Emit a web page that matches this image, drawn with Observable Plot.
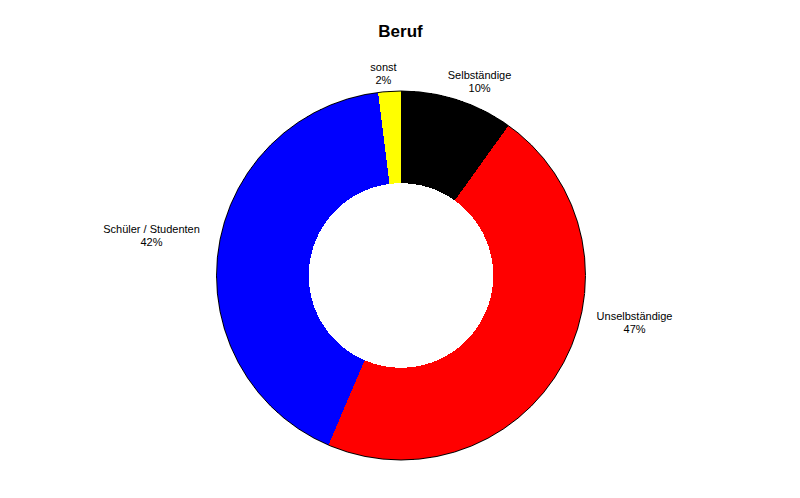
<!DOCTYPE html>
<html>
<head>
<meta charset="utf-8">
<script src="https://cdn.jsdelivr.net/npm/d3@7"></script>
<script src="https://cdn.jsdelivr.net/npm/@observablehq/plot@0.6"></script>
<style>
  body { margin: 0; background: #fff; }
  svg { display: block; }
</style>
</head>
<body>
<div id="chart"></div>
<script>
// Survey result: occupation ("Beruf"), share in percent, clockwise from 12 o'clock
const categories = ["Selbständige", "Unselbständige", "Schüler / Studenten", "sonst"];
const shares = [10, 47, 42, 2];
const sliceColors = ["#000000", "#ff0000", "#0000ff", "#ffff00"];
const title = "Beruf";

// Label anchors in units of the outer radius, relative to the ring's centre
const labelX = [0.423, 1.263, -1.355, -0.098];
const labelY = [1.054, -0.252, 0.220, 1.100];

const innerRatio = 0.5;
const width = 800, height = 498;

const labels = categories.map((c, i) => ({
  text: `${c}\n${shares[i]}%`,
  x: labelX[i],
  y: labelY[i]
}));

// Donut ring drawn from the shares, positioned and sized by Plot's x/y scales
function donut(index, scales) {
  const cx = scales.x(0), cy = scales.y(0);
  const r = scales.x(1) - cx;
  const arcs = d3.pie().sort(null).value(d => d)(shares);
  const arc = d3.arc().innerRadius(r * innerRatio).outerRadius(r);
  const g = d3.create("svg:g").attr("transform", `translate(${cx},${cy})`);
  g.selectAll("path")
    .data(arcs)
    .join("path")
    .attr("d", arc)
    .attr("fill", (d, i) => scales.color(categories[i]))
    .attr("shape-rendering", "crispEdges");
  g.append("circle")
    .attr("r", r)
    .attr("fill", "none")
    .attr("stroke", "#000")
    .attr("stroke-width", 1);
  return g.node();
}

const chart = Plot.plot({
  width,
  height,
  margin: 0,
  style: { fontFamily: "Liberation Sans, Arial, sans-serif", background: "#fff" },
  x: { domain: [-401 / 184.5, 399 / 184.5], range: [0, width], axis: null },
  y: { domain: [-(height - 275.5) / 184.5, 275.5 / 184.5], range: [height, 0], axis: null },
  color: { domain: categories, range: sliceColors },
  marks: [
    donut,
    Plot.text(labels, {
      x: "x",
      y: "y",
      text: "text",
      fontSize: 11,
      lineHeight: 1.2,
      fill: "#000",
      textAnchor: "middle",
      lineAnchor: "middle"
    }),
    Plot.text([title], {
      frameAnchor: "top",
      dy: 31,
      lineAnchor: "middle",
      text: d => d,
      fontSize: 17,
      fontWeight: "bold",
      fill: "#000"
    })
  ]
});

document.getElementById("chart").append(chart);
</script>
</body>
</html>
